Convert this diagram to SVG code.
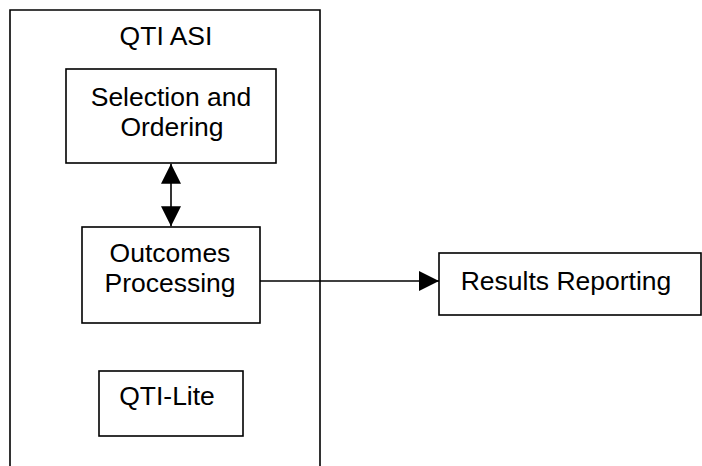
<svg xmlns="http://www.w3.org/2000/svg" width="702" height="466" viewBox="0 0 702 466">
<style>
.box{fill:#fff;stroke:#000;stroke-width:1.6}
.ln{fill:none;stroke:#000;stroke-width:1.6}
text{font-family:"Liberation Sans",Arial,sans-serif;font-size:26.5px;fill:#000;text-anchor:middle}
</style>
<defs>
<marker id="ah" viewBox="0 0 20 20" refX="20" refY="10" markerWidth="20" markerHeight="20" markerUnits="userSpaceOnUse" orient="auto-start-reverse">
<path d="M0,0 L20,10 L0,20 Z" fill="#000"/>
</marker>
</defs>
<g id="qti-asi">
<path class="ln" d="M10,466 V10 H320 V466"/>
<text x="166" y="45">QTI ASI</text>
</g>
<g id="selection">
<rect class="box" x="66" y="69" width="210" height="94"/>
<text x="171" y="106">Selection and</text>
<text x="172" y="136">Ordering</text>
</g>
<g id="outcomes">
<rect class="box" x="82" y="227" width="178" height="96"/>
<text x="170" y="262">Outcomes</text>
<text x="170" y="292">Processing</text>
</g>
<g id="qti-lite">
<rect class="box" x="99" y="371" width="144" height="65"/>
<text x="167" y="405">QTI-Lite</text>
</g>
<g id="results">
<rect class="box" x="439" y="253" width="262" height="62"/>
<text x="566" y="290">Results Reporting</text>
</g>
<g id="connectors">
<line class="ln" x1="171" y1="163.8" x2="171" y2="226.2" marker-start="url(#ah)" marker-end="url(#ah)"/>
<line class="ln" x1="260" y1="281" x2="439" y2="281" marker-end="url(#ah)"/>
</g>
</svg>
